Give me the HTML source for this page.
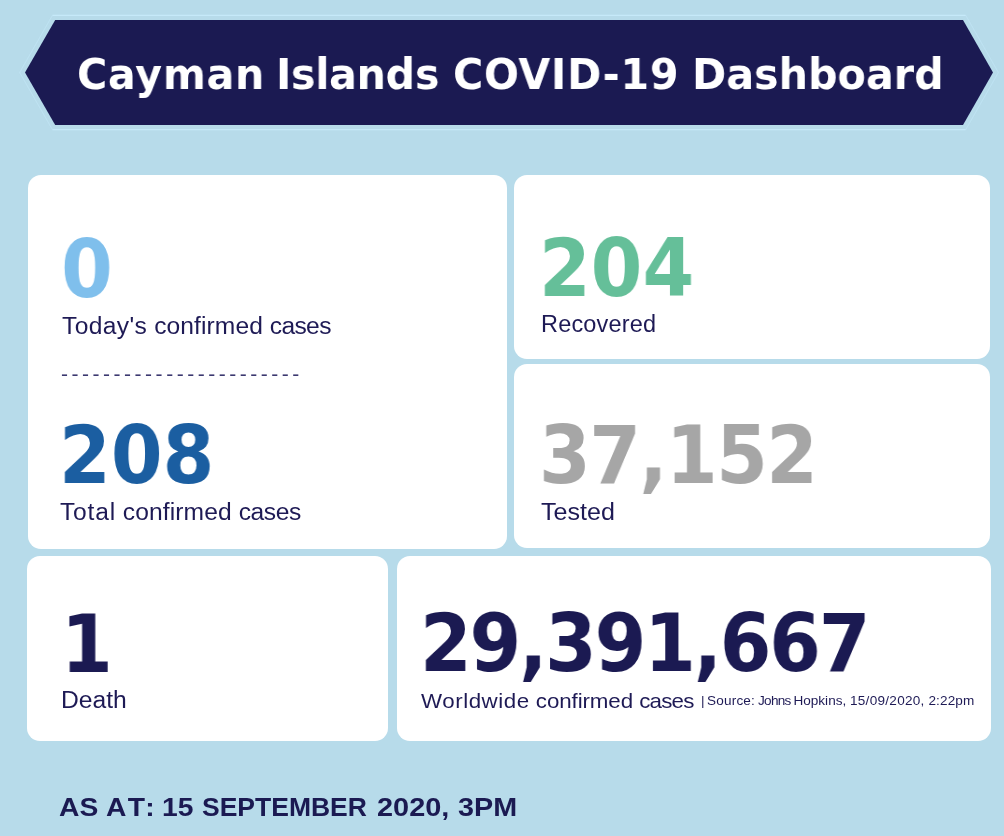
<!DOCTYPE html>
<html lang="en">
<head>
<meta charset="utf-8">
<title>Cayman Islands COVID-19 Dashboard</title>
<style>
  html, body { margin: 0; padding: 0; }
  body {
    width: 1004px; height: 836px; overflow: hidden; position: relative;
    background: #b7dbea;
    font-family: "Liberation Sans", sans-serif;
    color: #1e1a55;
  }
  .banner { position: absolute; left: 0; top: 0; width: 1004px; height: 150px; }
  .title { position: absolute; left: 0; top: 44.1px; width: 1004px; height: 60px; }
  .title span {
    position: absolute; top: 0;
    font-family: "DejaVu Sans", "Liberation Sans", sans-serif;
    font-weight: bold; font-size: 42.7px; line-height: 60px; color: #fff;
    letter-spacing: 1.2px; white-space: nowrap;
    transform: scaleX(0.965); transform-origin: 0 0; will-change: transform;
  }
  .title, .num, .lbl, .dash, .src, .asat { will-change: transform; }
  .card { position: absolute; background: #fff; border-radius: 13px; }
  .num {
    position: absolute; font-family: "DejaVu Sans", "Liberation Sans", sans-serif;
    font-weight: bold; font-size: 79.5px; line-height: 80px;
    letter-spacing: -2.1px; white-space: nowrap;
    transform: scaleX(0.935); transform-origin: 0 0;
  }
  .lbl { position: absolute; font-size: 23.5px; line-height: 28px; letter-spacing: 0; white-space: nowrap; color: #1e1a55; transform-origin: 0 0; transform: scaleX(1.047); }
  .dash { position: absolute; white-space: nowrap; color: #3b3870; }
  .src { position: absolute; font-size: 13.5px; line-height: 16px; white-space: nowrap; color: #1e1a55; }
  .asat { position: absolute; left: 0; top: 792px; width: 1004px; height: 30px; }
  .asat span { position: absolute; top: 0; font-weight: bold; font-size: 26.5px; line-height: 30px; letter-spacing: 0; white-space: nowrap; color: #1b1a52; transform-origin: 0 0; transform: scaleX(1.066); will-change: transform; }
</style>
</head>
<body>
  <svg class="banner" viewBox="0 0 1004 150">
    <polygon points="25,72.5 55.2,20 963,20 993,72.5 963,125 55.2,125" fill="#1b1a52"/>
    <g fill="none" stroke="#c6e9f9" stroke-width="1.1">
      <path d="M52.5,15.35 H965.7 M52.5,129.65 H965.7"/>
      <path d="M52.5,15.35 L19.64,72.5 L52.5,129.65 M965.7,15.35 L998.36,72.5 L965.7,129.65" stroke-opacity="0.5"/>
    </g>
  </svg>
  <div class="title"><span style="left:77px;letter-spacing:0.75px">Cayman</span> <span style="left:276.3px;letter-spacing:-0.3px">Islands</span> <span style="left:453px;letter-spacing:0.7px">COVID-19</span> <span style="left:692.2px;letter-spacing:0.05px">Dashboard</span></div>

  <div class="card" style="left:27.6px;top:175px;width:479.5px;height:373.5px"></div>
  <div class="card" style="left:514px;top:174.8px;width:476.1px;height:183.75px"></div>
  <div class="card" style="left:514px;top:364.35px;width:476.2px;height:184.1px"></div>
  <div class="card" style="left:26.8px;top:555.9px;width:361.5px;height:185.1px"></div>
  <div class="card" style="left:397.2px;top:555.9px;width:593.7px;height:185.2px"></div>

  <div class="num" style="left:61.1px;top:230.2px;color:#7fbfec">0</div>
  <div class="lbl" style="left:62.1px;top:311.7px"><span style="letter-spacing:0.36px">Today's</span> <span style="letter-spacing:0.08px">confirmed</span> <span style="letter-spacing:-0.62px">cases</span></div>
  <div class="dash" style="left:61.3px;top:362.2px;font-size:21px;letter-spacing:3.52px">-----------------------</div>
  <div class="num" style="left:58.8px;top:416.2px;color:#1b5ea1;letter-spacing:0.1px">208</div>
  <div class="lbl" style="left:60px;top:498px"><span style="letter-spacing:0.76px">Total</span> <span style="letter-spacing:0.1px">confirmed</span> <span style="letter-spacing:-0.4px">cases</span></div>

  <div class="num" style="left:539.2px;top:229px;color:#65bf99;letter-spacing:0">204</div>
  <div class="lbl" style="left:541.4px;top:310px;letter-spacing:0.19px;transform:none">Recovered</div>

  <div class="num" style="left:538.7px;top:416.2px;color:#a6a6a6;letter-spacing:-1.67px">37,152</div>
  <div class="lbl" style="left:541.2px;top:498.2px;transform:scaleX(1.066)">Tested</div>

  <div class="num" style="left:60.8px;top:604.9px;color:#1b1a52">1</div>
  <div class="lbl" style="left:60.6px;top:685.6px;transform:scaleX(1.05)">Death</div>

  <div class="num" style="left:420.4px;top:604.2px;color:#1b1a52;letter-spacing:-2.34px">29,391,667</div>
  <div class="lbl" style="left:421.3px;top:686.5px;font-size:20.9px;transform:scaleX(1.069)"><span style="letter-spacing:0.5px">Worldwide</span> <span style="letter-spacing:-0.1px">confirmed</span> <span style="letter-spacing:-0.75px">cases</span></div>
  <div class="src" style="left:700.5px;top:693.3px;font-size:13.55px">| <span style="margin-left:-1.2px;letter-spacing:0.17px">Source:</span> <span style="margin-left:-0.8px;letter-spacing:-0.7px">Johns</span> <span style="margin-left:-0.9px">Hopkins,</span> <span style="letter-spacing:0.28px">15/09/2020,</span> <span style="letter-spacing:0.15px">2:22pm</span></div>

  <div class="asat"><span style="left:59.3px">AS</span> <span style="left:106px;letter-spacing:3.2px">AT:</span> <span style="left:162px">15</span> <span style="left:201.5px;transform:scaleX(1.0)">SEPTEMBER</span> <span style="left:377px;transform:scaleX(1.09)">2020,</span> <span style="left:457.8px;transform:scaleX(1.085)">3PM</span></div>
</body>
</html>
